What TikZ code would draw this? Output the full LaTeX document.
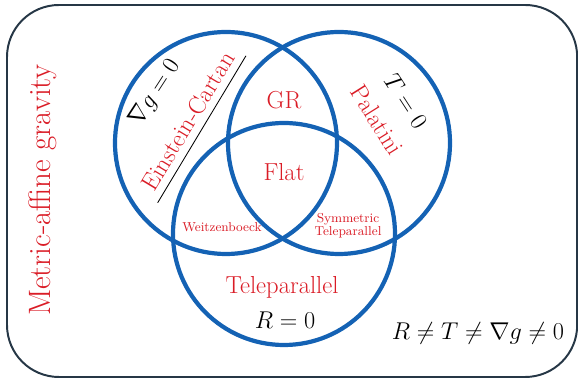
\documentclass[tikz,border=0pt]{standalone}
\usepackage{amsmath}
\definecolor{vennblue}{RGB}{20,98,180}
\definecolor{labelred}{RGB}{218,28,38}
\definecolor{frame}{RGB}{38,55,70}
\begin{document}
\begin{tikzpicture}[
        venn/.style={draw=vennblue, line width=3pt},
        big/.style={font=\fontsize{17.5}{21}\selectfont},
        small/.style={font=\fontsize{9.2}{11}\selectfont, text=labelred, align=center},
        theory/.style={big, text=labelred}
    ]
        \useasboundingbox (0,0) rectangle (14.45,9.475);

        % Frame
        \draw[frame, line width=1.4pt, rounded corners=1.3cm] (0.175,0.05) rectangle (14.43,9.35);
        \node[rotate=90, text=labelred, font=\fontsize{22}{26}\selectfont] (mag) at (1.075,4.725) {Metric-affine gravity};

        % Circles
        \draw[venn] (5.65,5.9) circle (2.775);
        \draw[venn] (8.475,5.9) circle (2.775);
        \draw[venn] (7.1,3.625) circle (2.775);

        % Inner regions
        \node[theory] (gr) at (7.1,6.975) {GR};
        \node[theory] (flat) at (7.1,5.175) {Flat};
        \node[small] (weitz) at (5.55,3.8) {Weitzenboeck};
        \node[small] (stele) at (8.7,3.83) {Symmetric\\[-2pt]Teleparallel};

        % Left circle: metric compatible
        \node[theory, rotate=59, inner sep=5pt] (ec) at (4.7,6.45) {Einstein-Cartan};
        \draw[black, line width=0.6pt] (ec.south west) -- (ec.south east);
        \node[big, rotate=57] (nabla) at (3.875,7.15) {$\nabla g = 0$};

        % Right circle: torsion free
        \node[big, rotate=-57] (tzero) at (10.15,6.95) {$T = 0$};
        \node[theory, rotate=-58] (pal) at (9.425,6.475) {Palatini};

        % Bottom circle: curvature free
        \node[theory] (tele) at (7.05,2.3) {Teleparallel};
        \node[big] (rzero) at (7.125,1.475) {$R = 0$};

        % General case
        \node[big] (gen) at (11.95,1.15) {$R \neq T \neq \nabla g \neq 0$};

    \end{tikzpicture}
\end{document}
